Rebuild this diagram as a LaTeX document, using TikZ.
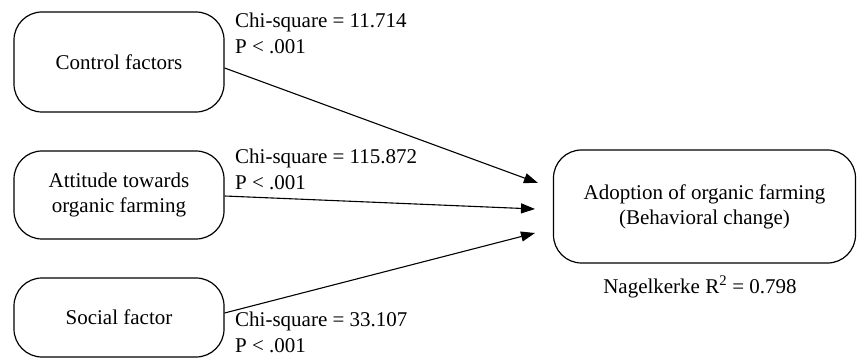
\documentclass[tikz,border=0pt]{standalone}
\usepackage{fontspec}
\setmainfont{Liberation Serif}
\usetikzlibrary{arrows.meta}
\begin{document}
\begin{tikzpicture}[x=1pt,y=-1pt,
  factorbox/.style={draw, line width=1.2pt, rounded corners=28pt, align=center,
    font=\fontsize{21}{25}\selectfont, inner sep=0pt},
  statlabel/.style={anchor=base west, align=left, inner sep=0pt,
    font=\fontsize{21}{26}\selectfont},
  link/.style={line width=1.1pt, -{Triangle[length=14pt,width=10pt]}}]
\useasboundingbox (0,0) rectangle (857,358);
% predictor boxes
\node[factorbox, minimum width=210pt, minimum height=100pt] (ctrl) at (119,62) {Control factors};
\node[factorbox, minimum width=210pt, minimum height=88pt] (att) at (119,195) {Attitude towards\\organic farming};
\node[factorbox, minimum width=210pt, minimum height=79pt] (soc) at (119,317.5) {Social factor};
% outcome box
\node[factorbox, minimum width=302pt, minimum height=113pt] (adopt) at (704.5,206.5) {Adoption of organic farming\\(Behavioral change)};
% arrow tips at the outcome box
\coordinate (t1) at (538,183);
\coordinate (t2) at (535,209);
\coordinate (t3) at (535,233);
\draw[link] (ctrl.east |- 0,68) -- (t1);
\draw[link] (att.east |- 0,196) -- (t2);
\draw[link] (soc.east |- 0,313) -- (t3);
% test statistics (base anchor sits on the second line)
\node[statlabel] (l1) at (235,54) {Chi-square = 11.714\\P < .001};
\node[statlabel] (l2) at (235,190) {Chi-square = 115.872\\P < .001};
\node[statlabel] (l3) at (235,352) {Chi-square = 33.107\\P < .001};
\node[anchor=base, font=\fontsize{21}{25}\selectfont, inner sep=0pt] (r2) at (700,293) {Nagelkerke R\textsuperscript{2} = 0.798};
\end{tikzpicture}
\end{document}
